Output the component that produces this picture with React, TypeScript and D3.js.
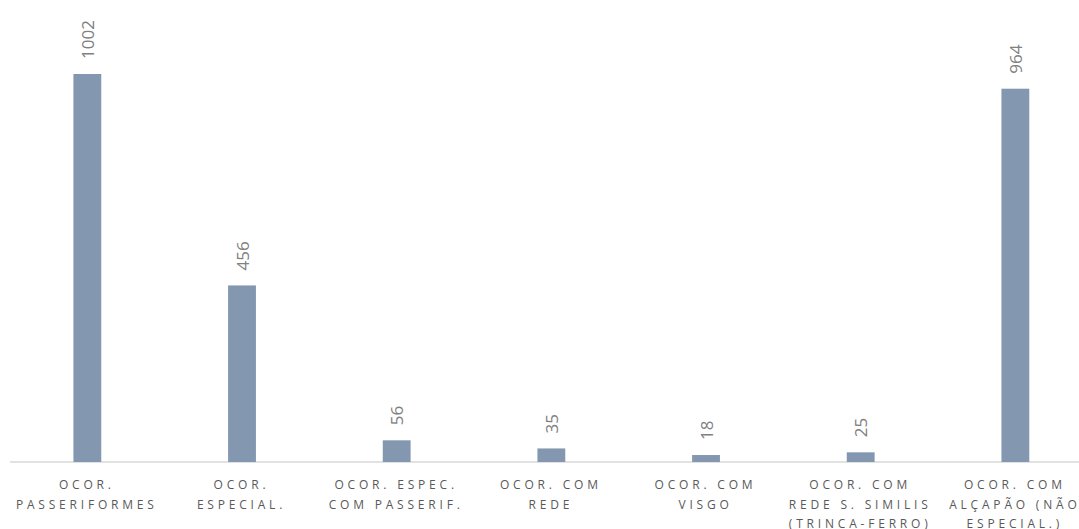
import React from "react";
import * as d3 from "d3";

// Category labels, one entry per line of each axis label
const categoryLines: string[][] = [
  ["OCOR.", "PASSERIFORMES"],
  ["OCOR.", "ESPECIAL."],
  ["OCOR. ESPEC.", "COM PASSERIF."],
  ["OCOR. COM", "REDE"],
  ["OCOR. COM", "VISGO"],
  ["OCOR. COM", "REDE S. SIMILIS", "(TRINCA-FERRO)"],
  ["OCOR. COM", "ALÇAPÃO (NÃO", "ESPECIAL.)"],
];
const categories = categoryLines.map((l) => l.join(" "));
const values = [1002, 456, 56, 35, 18, 25, 964];

const W = 1079;
const H = 529;
const baseY = 462;
const barColor = "#8497B0";

export default function App() {
  const x = d3
    .scaleBand<string>()
    .domain(categories)
    .range([10, 1092.7])
    .paddingInner(0.82)
    .paddingOuter(0.41);
  const y = d3.scaleLinear().domain([0, 1002]).range([baseY, 74]);
  const ls = 3.8;

  return (
    <svg
      width={W}
      height={H}
      style={{ position: "absolute", left: 0, top: 0, display: "block", background: "#fff" }}
    >
      <line x1={10} x2={W} y1={baseY} y2={baseY} stroke="#d9d9d9" strokeWidth={1.3} />
      {categories.map((c, i) => {
        const cx = (x(c) as number) + x.bandwidth() / 2;
        const top = y(values[i]);
        return (
          <g key={c}>
            <rect
              x={x(c)}
              y={top}
              width={x.bandwidth()}
              height={baseY - top}
              fill={barColor}
            />
            <text
              transform={`translate(${cx + 6.5},${top - 15}) rotate(-90)`}
              fontFamily="'Open Sans', Lato, sans-serif"
              fontSize={17}
              fill="#808080"
              textAnchor="start"
            >
              {values[i]}
            </text>
            {categoryLines[i].map((line, j) => (
              <text
                key={j}
                x={cx - 0.5}
                y={489 + j * 19.5}
                textAnchor="middle"
                fontFamily="'Open Sans', Lato, sans-serif"
                fontSize={12}
                letterSpacing={ls}
                fill="#595959"
              >
                {line}
              </text>
            ))}
          </g>
        );
      })}
    </svg>
  );
}
